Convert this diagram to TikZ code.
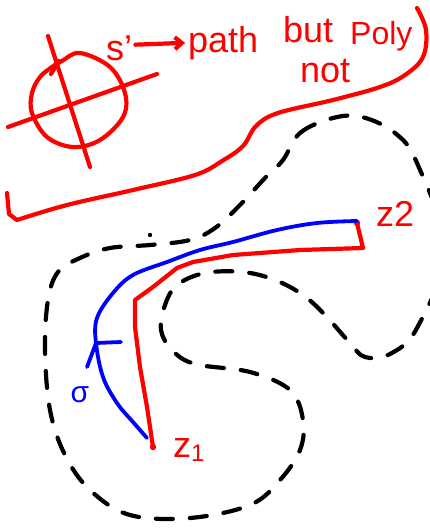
\documentclass[tikz,border=0pt]{standalone}
\usepackage{fontspec}
\setmainfont{Liberation Sans}
\usetikzlibrary{arrows.meta}
\begin{document}
\begin{tikzpicture}[x=1pt,y=-1pt,
  ink/.style={line width=4.2pt,line cap=round,line join=round},
  redink/.style={ink,draw=red},
  blueink/.style={ink,draw=blue,line width=3.8pt},
  dashink/.style={ink,draw=black,dash pattern=on 17pt off 17pt},
  hand/.style={inner sep=0pt,anchor=base west,text=red,font=\fontsize{36}{36}\selectfont},
  bluehand/.style={inner sep=0pt,text=blue,font=\fontsize{30}{30}\selectfont}]
\useasboundingbox[fill=white] (0,0) rectangle (430,528);

% circle with axes
\draw[redink] plot[smooth cycle,tension=0.6] coordinates {(62,61) (80,53) (110,67) (125,93) (123,117) (100,140) (73,147) (47,137) (32,113) (32,93) (40,77) (52,67)};
\draw[redink] (48,36) -- (90,167);
\draw[redink] (8,127) -- (157,74);
\draw[redink] (51,74) -- (59,61);

% texts
\node[hand] (sp) at (106,60) {s'};
\node[hand] (path) at (188,52) {path};
\node[hand] (but) at (283,42) {but};
\node[hand,font=\fontsize{32}{32}\selectfont] (poly) at (350,44) {Poly};
\node[hand] (not) at (300,82) {not};
\draw[redink,-{Straight Barb[length=7pt,width=12pt]},shorten <=3pt,shorten >=3pt] ([yshift=3pt]sp.east) -- (path.west);

% bracket curve
\draw[redink] plot[smooth,tension=0.6] coordinates {(417,8) (426,30) (423,57) (405,75) (380,87) (333,100) (278,113) (256,126) (243,146) (222,161) (195,175) (133,190) (67,205) (17,220)} -- (9,214) -- (7,193);

% dashed closed curve
\draw[dashink] plot[smooth cycle,tension=0.6] coordinates {(283,160) (300,133) (333,118) (362,117) (395,133) (417,163) (445,250) (417,328) (390,354) (365,357) (350,343) (325,315) (303,295) (275,280) (243,272) (205,273) (177,285) (165,305) (161,330) (172,350) (195,364) (250,372) (290,390) (303,420) (300,450) (280,480) (250,505) (190,518) (130,515) (90,490) (65,455) (50,410) (45,350) (48,300) (58,272) (80,258) (110,248) (150,245) (190,240) (215,228) (240,205) (265,178)};
\fill (150,235) circle (2.2pt);

% endpoints
\coordinate (z1) at (153,447);
\coordinate (z2) at (357,223);

% red path
\draw[redink] (z1) -- (147,407) -- (140,367) -- (135,327) -- (135,300) -- (153,287) -- (177,268) -- (193,262) -- (233,255) -- (300,250) -- (363,248) -- (z2);
\fill[red] (z1) circle (3.2pt);
\fill[red] (z2) circle (3.2pt);

% blue sigma curve
\draw[blueink] plot[smooth,tension=0.6] coordinates {(357,221) (317,223) (277,230) (233,242) (200,250) (167,262) (133,275) (113,293) (97,318) (96,343) (103,377) (117,403) (133,422) (147,438)};
\coordinate (sa) at (96,343);
\draw[blueink] (sa) -- (87,367);
\draw[blueink] (sa) -- (121,342);

% labels
\node[hand] (lz2) at (376,226) {z2};
\node[hand] (lz1) at (173,457) {z\raisebox{-4pt}{\fontsize{24}{24}\selectfont 1}};
\node[bluehand] (sig) at (80,395) {σ};
\end{tikzpicture}
\end{document}
